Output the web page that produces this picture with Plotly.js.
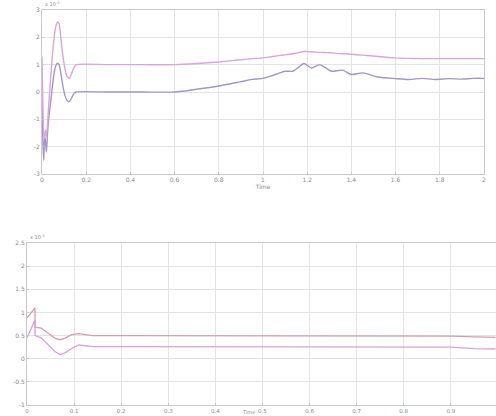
<!DOCTYPE html>
<html>
<head>
<meta charset="utf-8">
<script src="https://cdn.plot.ly/plotly-3.0.1.min.js"></script>
<style>html,body{margin:0;padding:0;background:#fff;}#chart{width:496px;height:416px;}</style>
</head>
<body>
<div id="chart"></div>
<script>
// ---- Top panel data (values x 10^-3) ----
var topTime = [0, 0.004, 0.008, 0.012, 0.016, 0.02, 0.025, 0.03, 0.04, 0.05, 0.06, 0.07, 0.077, 0.085, 0.095, 0.105, 0.115, 0.124, 0.135, 0.145, 0.155,
  0.3, 0.45, 0.6,
  0.7, 0.8, 0.9, 0.95, 1.0,
  1.035, 1.07, 1.1, 1.135, 1.16, 1.185,
  1.22, 1.255, 1.29, 1.31, 1.36, 1.4, 1.45, 1.52, 1.6,
  1.66, 1.72, 1.78, 1.84, 1.9, 1.95, 2.0];
var topPink = [1.3, -0.5, -1.5, -1.7, -1.4, -1.6, -1.2, -0.5, 0.6, 1.6, 2.3, 2.55, 2.5, 2.0, 1.3, 0.8, 0.55, 0.5, 0.7, 0.9, 1.0,
  1.0, 1.0, 1.0,
  1.04, 1.1, 1.18, 1.22, 1.25,
  1.29, 1.33, 1.36, 1.4, 1.44, 1.48,
  1.47, 1.45, 1.44, 1.43, 1.4, 1.38, 1.35, 1.3, 1.25,
  1.23, 1.22, 1.22, 1.22, 1.22, 1.22, 1.22];
var topPurple = [-0.2, -1.8, -2.5, -1.6, -1.8, -2.2, -1.5, -1.0, -0.3, 0.4, 0.9, 1.05, 1.0, 0.7, 0.2, -0.15, -0.33, -0.35, -0.2, -0.05, 0.0,
  0, 0, 0,
  0.1, 0.22, 0.38, 0.46, 0.5,
  0.58, 0.68, 0.76, 0.76, 0.9, 1.04,
  0.88, 1.0, 0.85, 0.76, 0.8, 0.64, 0.7, 0.55, 0.49,
  0.46, 0.5, 0.46, 0.49, 0.47, 0.5, 0.5];
var topXTicks = [0, 0.2, 0.4, 0.6, 0.8, 1, 1.2, 1.4, 1.6, 1.8, 2];
var topXLabels = ["0", "0.2", "0.4", "0.6", "0.8", "1", "1.2", "1.4", "1.6", "1.8", "2"];
var topYTicks = [-3, -2, -1, 0, 1, 2, 3];
var topYLabels = ["-3", "-2", "-1", "0", "1", "2", "3"];

// ---- Bottom panel data (values x 10^-3) ----
var botTime = [0, 0.008, 0.017, 0.0171, 0.03, 0.045, 0.06, 0.07, 0.08, 0.095, 0.11, 0.125, 0.14, 0.2, 0.4, 0.6, 0.8, 0.9, 0.95, 0.995];
var botUpper = [0.88, 0.98, 1.1, 0.68, 0.66, 0.55, 0.44, 0.41, 0.44, 0.52, 0.54, 0.52, 0.5, 0.5, 0.5, 0.5, 0.5, 0.49, 0.47, 0.46];
var botLower = [0.45, 0.65, 0.84, 0.5, 0.45, 0.3, 0.15, 0.09, 0.12, 0.22, 0.3, 0.28, 0.26, 0.26, 0.26, 0.26, 0.26, 0.25, 0.22, 0.21];
var botXTicks = [0, 0.1, 0.2, 0.3, 0.4, 0.5, 0.6, 0.7, 0.8, 0.9];
var botXLabels = ["0", "0.1", "0.2", "0.3", "0.4", "0.5", "0.6", "0.7", "0.8", "0.9"];
var botYTicks = [-1, -0.5, 0, 0.5, 1, 1.5, 2, 2.5];
var botYLabels = ["-1", "-0.5", "0", "0.5", "1", "1.5", "2", "2.5"];

var traces = [
  {x: topTime, y: topPurple, type: 'scatter', mode: 'lines', xaxis: 'x', yaxis: 'y',
   line: {color: '#a596c6', width: 1.4, shape: 'spline', smoothing: 0.7}, hoverinfo: 'skip'},
  {x: topTime, y: topPink, type: 'scatter', mode: 'lines', xaxis: 'x', yaxis: 'y',
   line: {color: '#d9a6dc', width: 1.4, shape: 'spline', smoothing: 0.7}, hoverinfo: 'skip'},
  {x: botTime, y: botUpper, type: 'scatter', mode: 'lines', xaxis: 'x2', yaxis: 'y2',
   line: {color: '#cfa2aa', width: 1.3}, hoverinfo: 'skip'},
  {x: botTime, y: botLower, type: 'scatter', mode: 'lines', xaxis: 'x2', yaxis: 'y2',
   line: {color: '#d7a2dc', width: 1.3}, hoverinfo: 'skip'}
];

var tickFont = {family: 'DejaVu Sans', size: 6, color: '#8a8a8a'};
function axisBase() {
  return {
    showgrid: true, gridcolor: '#e4e4e4', gridwidth: 1,
    showline: true, linecolor: '#c8c8c8', linewidth: 1, mirror: true,
    zeroline: false, ticks: 'inside', ticklen: 2, tickcolor: '#c8c8c8',
    tickfont: tickFont, tickmode: 'array', automargin: false, fixedrange: true
  };
}

var xa = axisBase();
Object.assign(xa, {domain: [42/496, 484/496], range: [0, 2], tickvals: topXTicks, ticktext: topXLabels, anchor: 'y',
  title: {text: 'Time', font: {family: 'DejaVu Sans', size: 6, color: '#8a8a8a'}, standoff: 1}});
var ya = axisBase();
Object.assign(ya, {domain: [1 - 174/416, 1 - 10/416], range: [-3, 3], tickvals: topYTicks, ticktext: topYLabels, anchor: 'x'});
var xb = axisBase();
Object.assign(xb, {domain: [27/496, 1], range: [0, 0.996], tickvals: botXTicks, ticktext: botXLabels, anchor: 'y2',
  tickfont: {family: 'DejaVu Sans', size: 5.5, color: '#8a8a8a'}});
var yb = axisBase();
Object.assign(yb, {domain: [1 - 405/416, 1 - 243/416], range: [-1, 2.5], tickvals: botYTicks, ticktext: botYLabels, anchor: 'x2'});

var layout = {
  width: 496, height: 416,
  margin: {l: 0, r: 0, t: 0, b: 0},
  paper_bgcolor: '#ffffff', plot_bgcolor: '#ffffff',
  showlegend: false,
  xaxis: xa, yaxis: ya, xaxis2: xb, yaxis2: yb,
  annotations: [
    {text: 'x 10<sup>-3</sup>', xref: 'paper', yref: 'paper', x: 43/496, y: 1 - 9/416,
     xanchor: 'left', yanchor: 'bottom', showarrow: false, font: {family: 'DejaVu Sans', size: 5, color: '#8a8a8a'}},
    {text: 'x 10<sup>-3</sup>', xref: 'paper', yref: 'paper', x: 28/496, y: 1 - 242/416,
     xanchor: 'left', yanchor: 'bottom', showarrow: false, font: {family: 'DejaVu Sans', size: 5, color: '#8a8a8a'}},
    {text: 'Time', xref: 'paper', yref: 'paper', x: 256/496, y: 0,
     xanchor: 'right', yanchor: 'bottom', showarrow: false, borderpad: 0,
     font: {family: 'DejaVu Sans', size: 5, color: '#8a8a8a'}}
  ]
};

Plotly.newPlot('chart', traces, layout, {staticPlot: true, displayModeBar: false});
</script>
</body>
</html>
